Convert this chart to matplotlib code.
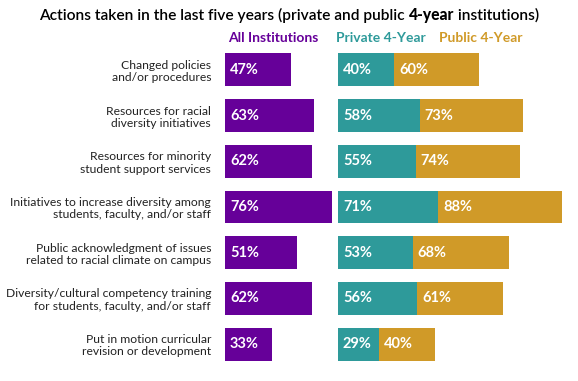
import matplotlib
matplotlib.use("Agg")
import matplotlib.pyplot as plt

plt.rcParams['font.family'] = ['Lato', 'DejaVu Sans']

categories = [
    "Changed policies\nand/or procedures",
    "Resources for racial\ndiversity initiatives",
    "Resources for minority\nstudent support services",
    "Initiatives to increase diversity among\nstudents, faculty, and/or staff",
    "Public acknowledgment of issues\nrelated to racial climate on campus",
    "Diversity/cultural competency training\nfor students, faculty, and/or staff",
    "Put in motion curricular\nrevision or development",
]
all_inst = [47, 63, 62, 76, 51, 62, 33]
private4 = [40, 58, 55, 71, 53, 56, 29]
public4 = [60, 73, 74, 88, 68, 61, 40]

PURPLE = '#660099'
TEAL = '#2E9A9A'
GOLD = '#D09A28'

W, H = 578, 381
fig = plt.figure(figsize=(W / 100, H / 100), dpi=100)

# pixel layout helpers
row_top, row_bot = 47, 367
def fx(px):
    return px / W
def fy(py):
    return 1 - py / H

ax1 = fig.add_axes([fx(225), fy(row_bot), fx(141), (row_bot - row_top) / H])
ax2 = fig.add_axes([fx(338), fy(row_bot), fx(240), (row_bot - row_top) / H])

y = list(range(len(categories)))
bh = 0.72

ax1.barh(y, all_inst, height=bh, color=PURPLE)
ax2.barh(y, private4, height=bh, color=TEAL)
ax2.barh(y, public4, left=private4, height=bh, color=GOLD)

for i in y:
    ax1.text(3.5, i, f"{all_inst[i]}%", color='white', fontweight='bold',
             fontsize=10.5, va='center', ha='left')
    ax2.text(3.5, i, f"{private4[i]}%", color='white', fontweight='bold',
             fontsize=10.5, va='center', ha='left')
    ax2.text(private4[i] + 3.5, i, f"{public4[i]}%", color='white',
             fontweight='bold', fontsize=10.5, va='center', ha='left')

ax1.set_xlim(0, 100)
ax2.set_xlim(0, 170)
for ax in (ax1, ax2):
    ax.set_ylim(len(categories) - 0.5, -0.5)
    for s in ax.spines.values():
        s.set_visible(False)
    ax.set_xticks([])
    ax.patch.set_alpha(0)

ax1.set_yticks(y)
ax1.set_yticklabels(categories, fontsize=8.7, color='#222222',
                    linespacing=1.15)
ax1.tick_params(axis='y', length=0, pad=10)
ax2.set_yticks([])

fig.text(fx(228), fy(38), "All Institutions", color=PURPLE,
         fontweight='bold', fontsize=10, va='center', ha='left')
fig.text(fx(336), fy(38), "Private 4-Year", color=TEAL,
         fontweight='bold', fontsize=10, va='center', ha='left')
fig.text(fx(439), fy(38), "Public 4-Year", color=GOLD,
         fontweight='bold', fontsize=10, va='center', ha='left')

# title with bold "4-year"
parts = [("Actions taken in the last five years (private and public ", 'semibold'),
         ("4-year", 'black'),
         (" institutions)", 'semibold')]
fig.canvas.draw()
r = fig.canvas.get_renderer()
texts = []
for s, wgt in parts:
    t = fig.text(0, fy(15), s, fontsize=11.2, fontweight=wgt, va='center',
                 ha='left', color='black')
    texts.append(t)
widths = [t.get_window_extent(renderer=r).width for t in texts]
x = (W - sum(widths)) / 2
for t, wpx in zip(texts, widths):
    t.set_x(fx(x))
    x += wpx

fig.savefig("out.png", dpi=100)
